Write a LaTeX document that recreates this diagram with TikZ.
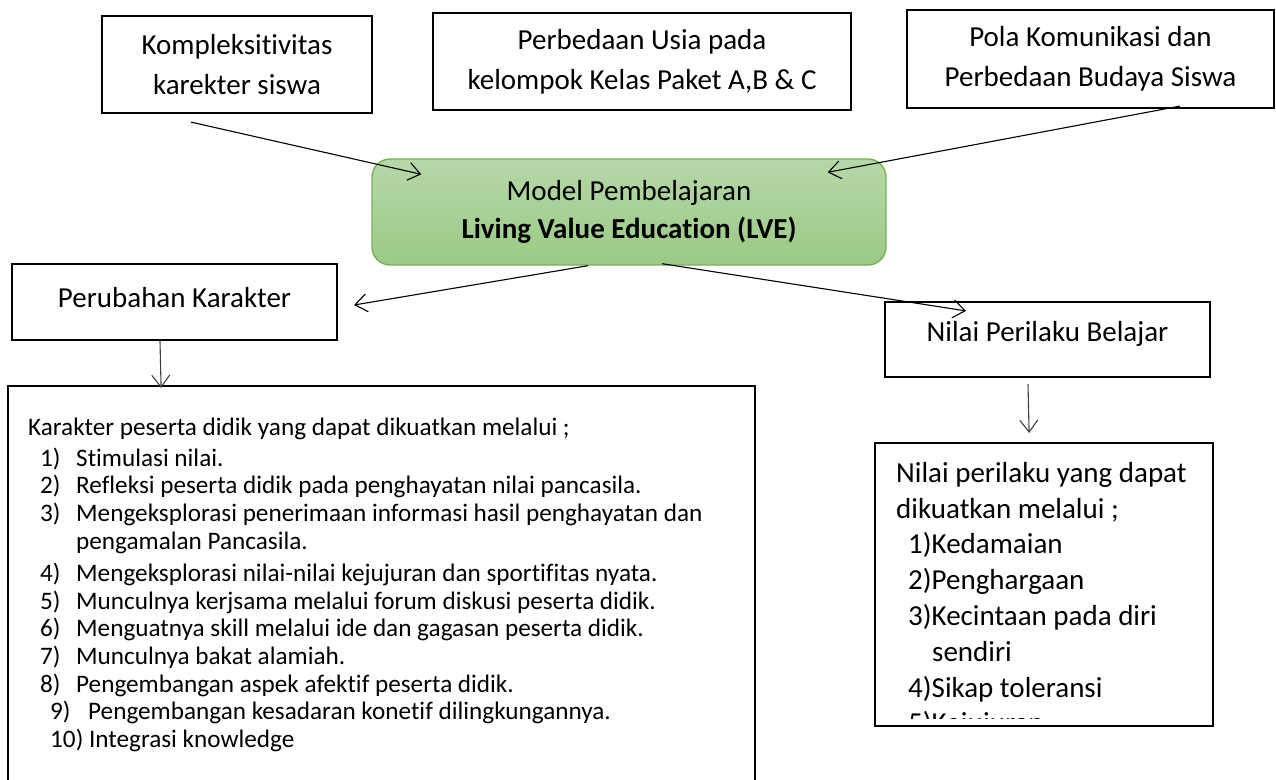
\documentclass[tikz,border=0pt]{standalone}
\usepackage{fontspec}
\setmainfont{Carlito}[Ligatures=NoCommon]
\usetikzlibrary{arrows.meta,positioning}
\definecolor{LeafTop}   {HTML}{B6D8A8}
\definecolor{LeafBottom}{HTML}{9BC986}
\definecolor{LeafEdge}  {HTML}{7AB05A}
\definecolor{StemGray}  {HTML}{404040}
\tikzset{
  tbox/.style={rectangle,draw=black,line width=2.2pt,fill=white,inner sep=0pt,
               align=center,font=\fontsize{29}{40}\selectfont},
  gbox/.style={rectangle,rounded corners=18pt,draw=LeafEdge,line width=1.4pt,
               top color=LeafTop,bottom color=LeafBottom,inner sep=0pt,
               align=center,font=\fontsize{29}{38}\selectfont},
  ltxt/.style={inner sep=0pt,anchor=north west,align=left},
  arr/.style={-{Straight Barb[length=12pt,width=18pt]},line width=1.1pt},
  darr/.style={arr,color=StemGray},
}

\begin{document}
\begin{tikzpicture}[x=1pt,y=-1pt]
  \useasboundingbox (0,0) rectangle (1276,779);

  \node[tbox,minimum width=270pt,minimum height=97pt] (KOMP) at (237,64.5)
    {Kompleksitivitas\\karekter siswa};
  \node[tbox,minimum width=418pt,minimum height=97pt] (USIA) at (642,61.5)
    {Perbedaan Usia pada\\kelompok Kelas Paket A,B \& C};
  \node[tbox,minimum width=367pt,minimum height=98pt] (POLA) at (1090.5,59)
    {Pola Komunikasi dan\\Perbedaan Budaya Siswa};

  \node[gbox,minimum width=514pt,minimum height=106pt] (LVE) at (629,212)
    {Model Pembelajaran\\\textbf{Living Value Education (LVE)}};

  \node[tbox,minimum width=325pt,minimum height=76pt,text depth=10pt] (PK) at (174.5,302)
    {Perubahan Karakter};
  \node[tbox,minimum width=325pt,minimum height=75pt,text depth=16pt] (NPB) at (1047.5,339.5)
    {Nilai Perilaku Belajar};

  \node[tbox,anchor=north west,minimum width=747pt,minimum height=420pt] (KAR) at (7,385) {};
  \node[ltxt,font=\fontsize{25.2}{27.6}\selectfont] (KARTXT) at (28,418)
    {Karakter peserta didik yang dapat dikuatkan melalui ;\\[3pt]
     \hspace*{12pt}\makebox[36pt][l]{1)}Stimulasi nilai.\\
     \hspace*{12pt}\makebox[36pt][l]{2)}Refleksi peserta didik pada penghayatan nilai pancasila.\\
     \hspace*{12pt}\makebox[36pt][l]{3)}Mengeksplorasi penerimaan informasi hasil penghayatan dan\\
     \hspace*{48pt}pengamalan Pancasila.\\[5pt]
     \hspace*{12pt}\makebox[36pt][l]{4)}Mengeksplorasi nilai-nilai kejujuran dan sportifitas nyata.\\
     \hspace*{12pt}\makebox[36pt][l]{5)}Munculnya kerjsama melalui forum diskusi peserta didik.\\
     \hspace*{12pt}\makebox[36pt][l]{6)}Menguatnya skill melalui ide dan gagasan peserta didik.\\
     \hspace*{12pt}\makebox[36pt][l]{7)}Munculnya bakat alamiah.\\
     \hspace*{12pt}\makebox[36pt][l]{8)}Pengembangan aspek afektif peserta didik.\\
     \hspace*{22pt}\makebox[38pt][l]{9)}Pengembangan kesadaran konetif dilingkungannya.\\
     \hspace*{22pt}10) Integrasi knowledge};

  \node[tbox,anchor=north west,minimum width=338pt,minimum height=283pt] (NPV) at (874,442) {};
  \begin{scope}
    \clip (876,444) rectangle (1210,718);
    \node[ltxt,font=\fontsize{29}{35.8}\selectfont] (NPVTXT) at (896,462)
      {Nilai perilaku yang dapat\\
       dikuatkan melalui ;\\
       \hspace*{12pt}1)Kedamaian\\
       \hspace*{12pt}2)Penghargaan\\
       \hspace*{12pt}3)Kecintaan pada diri\\
       \hspace*{36pt}sendiri\\
       \hspace*{12pt}4)Sikap toleransi\\
       \hspace*{12pt}5)Kejujuran};
  \end{scope}

  \draw[arr] ([xshift=-46pt,yshift=-8pt]KOMP.south) -- ([xshift=50pt,yshift=-16pt]LVE.north west);
  \draw[arr] ([xshift=89.5pt,yshift=3pt]POLA.south) -- ([xshift=-59pt,yshift=-14pt]LVE.north east);
  \draw[arr] ([xshift=-41pt]LVE.south) -- ([xshift=16pt,yshift=-3pt]PK.east);
  \draw[arr] ([xshift=33pt,yshift=2pt]LVE.south) -- ([xshift=-81.5pt,yshift=-10pt]NPB.north);
  \draw[darr] ([xshift=-14.5pt]PK.south) -- ([xshift=-220.5pt,yshift=-3pt]KAR.north);
  \draw[darr] ([xshift=-19.5pt,yshift=-6pt]NPB.south) -- ([xshift=-15pt,yshift=9pt]NPV.north);
\end{tikzpicture}
\end{document}
